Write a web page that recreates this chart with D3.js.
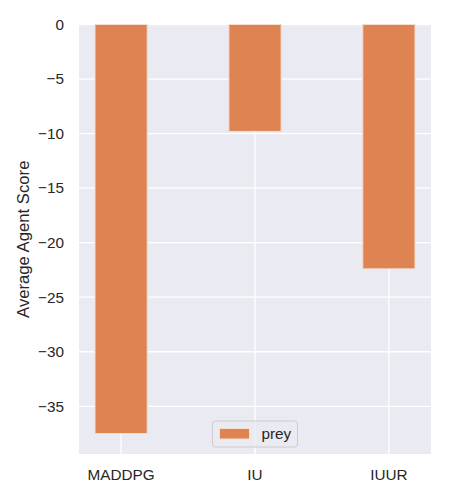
<!DOCTYPE html>
<html>
<head>
<meta charset="utf-8">
<script src="https://cdn.jsdelivr.net/npm/d3@7"></script>
<style>
  body { margin: 0; background: #fff; }
  text { font-family: "Liberation Sans", Arial, sans-serif; fill: #262626; }
</style>
</head>
<body>
<svg id="drawing_region"></svg>
<script>
const categories = ["MADDPG", "IU", "IUUR"];
const prey_values = [-37.5, -9.8, -22.4];
const y_ticks = [0, -5, -10, -15, -20, -25, -30, -35];
const series_name = "prey";

const config = {
    width: 450,
    height: 500,
    margin: {top: 24.5, right: 19, bottom: 46, left: 79},
    bar_width: 0.39,
    color: "#dd8452",
};

const svg = d3.select("#drawing_region")
    .attr("width", config.width)
    .attr("height", config.height);

const inner_width = config.width - config.margin.left - config.margin.right;
const inner_height = config.height - config.margin.top - config.margin.bottom;

const chart = svg.append("g")
    .attr("transform", `translate(${config.margin.left}, ${config.margin.top})`);

// matplotlib-like limits: 5% margin, 0 sticky
const n = categories.length;
const x_pad = 0.05 * (n - 1 + config.bar_width);
const x = d3.scaleLinear()
    .domain([-config.bar_width / 2 - x_pad, n - 1 + config.bar_width / 2 + x_pad])
    .range([0, inner_width]);

const y_min = d3.min(prey_values) * 1.05;
const y = d3.scaleLinear()
    .domain([y_min, 0])
    .range([inner_height, 0]);

chart.append("rect")
    .attr("width", inner_width)
    .attr("height", inner_height)
    .attr("fill", "#eaeaf2");

// grid
chart.selectAll(".hgrid")
    .data(y_ticks)
    .join("line")
    .attr("x1", 0).attr("x2", inner_width)
    .attr("y1", d => y(d)).attr("y2", d => y(d))
    .attr("stroke", "#fff").attr("stroke-width", 1.3);

chart.selectAll(".vgrid")
    .data(categories)
    .join("line")
    .attr("x1", (d, i) => x(i)).attr("x2", (d, i) => x(i))
    .attr("y1", 0).attr("y2", inner_height)
    .attr("stroke", "#fff").attr("stroke-width", 1.3);

// bars
chart.selectAll(".bar")
    .data(prey_values)
    .join("rect")
    .attr("x", (d, i) => x(i - config.bar_width / 2))
    .attr("width", x(config.bar_width) - x(0))
    .attr("y", y(0))
    .attr("height", d => y(d) - y(0))
    .attr("fill", config.color)
    .attr("stroke", "#f5ddd0")
    .attr("stroke-width", 1);

// y axis labels
const fmt = d => d < 0 ? "\u2212" + Math.abs(d) : String(d);
chart.selectAll(".ylab")
    .data(y_ticks)
    .join("text")
    .attr("x", -15)
    .attr("y", d => y(d))
    .attr("dy", "0.35em")
    .attr("text-anchor", "end")
    .style("font-size", "15.3px")
    .text(fmt);

// x axis labels
chart.selectAll(".xlab")
    .data(categories)
    .join("text")
    .attr("x", (d, i) => x(i))
    .attr("y", inner_height + 26)
    .attr("text-anchor", "middle")
    .style("font-size", "15.3px")
    .text(d => d);

svg.append("text")
    .attr("transform", `translate(29, ${config.margin.top + inner_height / 2}) rotate(-90)`)
    .attr("text-anchor", "middle")
    .style("font-size", "16.7px")
    .text("Average Agent Score");

// legend
const legend = chart.append("g")
    .attr("transform", `translate(${inner_width / 2 - 42.5}, ${inner_height - 33})`);
legend.append("rect")
    .attr("width", 85).attr("height", 26).attr("rx", 3)
    .attr("fill", "#eaeaf2").attr("fill-opacity", 0.8)
    .attr("stroke", "#cccccc").attr("stroke-width", 1);
legend.append("rect")
    .attr("x", 7).attr("y", 7.5)
    .attr("width", 30).attr("height", 10.5)
    .attr("fill", config.color)
    .attr("stroke", "#f5ddd0").attr("stroke-width", 1);
legend.append("text")
    .attr("x", 49).attr("y", 13)
    .attr("dy", "0.35em")
    .style("font-size", "15.3px")
    .text(series_name);
</script>
</body>
</html>
